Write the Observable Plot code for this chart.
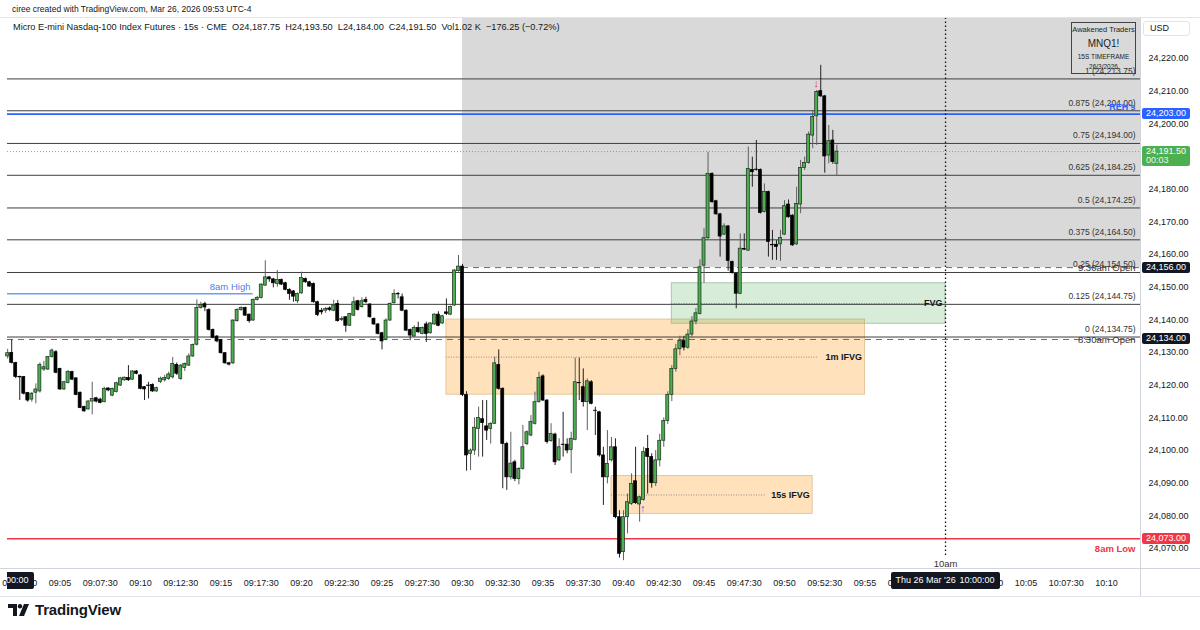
<!DOCTYPE html>
<html><head><meta charset="utf-8">
<script src="https://cdn.jsdelivr.net/npm/d3@7"></script>
<script src="https://cdn.jsdelivr.net/npm/@observablehq/plot@0.6"></script>
<style>
body{margin:0;background:#fff;font-family:"Liberation Sans",Arial,sans-serif;}
#wrap{position:relative;width:1200px;height:630px;overflow:hidden;background:#fff}
#chart{position:absolute;left:0;top:0;width:1200px}
.ov{position:absolute;white-space:nowrap;color:#131722;line-height:1}
.tag{position:absolute;left:1142px;width:48px;box-sizing:border-box;padding-left:4px;font-size:9px;color:#fff;border-radius:2px;white-space:nowrap}
.tbox{position:absolute;top:0;width:109px;height:17px;background:#131722;color:#fff;font-size:9px;line-height:17px;border-radius:2px;display:flex;justify-content:space-between;padding:0 5px;box-sizing:border-box;white-space:nowrap}
</style></head><body>
<div id="wrap">
<div id="chart"></div>
<div class="ov" style="left:12px;top:5px;font-size:8.5px">ciree created with TradingView.com, Mar 26, 2026 09:53 UTC-4</div>
<div class="ov" style="left:13px;top:23px;font-size:9.2px">Micro E-mini Nasdaq-100 Index Futures · 15s · CME&nbsp;&nbsp;O24,187.75&nbsp;&nbsp;H24,193.50&nbsp;&nbsp;L24,184.00&nbsp;&nbsp;C24,191.50&nbsp;&nbsp;Vol1.02 K&nbsp;&nbsp;−176.25 (−0.72%)</div>
<div class="ov" style="left:1071px;top:22px;width:63px;height:50px;border:1px solid #444;text-align:center;color:#222">
  <div style="font-size:7.5px;margin-top:3px">Awakened Traders</div>
  <div style="font-size:10px;margin-top:5px">MNQ1!</div>
  <div style="font-size:6.5px;margin-top:5px">15S TIMEFRAME</div>
  <div style="font-size:6.5px;margin-top:4px">26/3/2026</div>
</div>
<div class="ov" style="left:1143px;top:21px;width:47px;height:15px;border:1px solid #e0e3eb;border-radius:3px;background:#fff;box-sizing:border-box;font-size:9px;line-height:13px;padding-left:6px">USD</div>
<div class="ov" style="left:8px;top:602px;display:flex;align-items:center;gap:5px">
  <svg width="22" height="14" viewBox="0 0 22 14"><path d="M0 1h9v12H5V5H0z" fill="#131722"/><circle cx="12" cy="3.2" r="2.2" fill="#131722"/><path d="M16 1h5l-5 12h-5z" fill="#131722"/></svg>
  <span style="font-size:15px;font-weight:bold;color:#131722;letter-spacing:-0.2px">TradingView</span>
</div>
<div id="tclip" style="position:absolute;left:6.5px;top:572px;width:1134px;height:17px;overflow:hidden"></div>
</div>
<script>
const FONT = '"Liberation Sans", Arial, sans-serif';
// 15-second bars, index counted from 09:00:00 (first visible bar = index 7)
const firstBarIndex = 7;
const opens = [
24128.8,24129.9,24126.8,24122.5,24122.5,24117.6,24115.6,24117.7,24118.1,24124.8,
24124.8,24128.6,24130.1,24125.0,24118.7,24120.7,24124.0,24122.1,24117.7,24113.3,
24112.6,24115.0,24116.0,24115.6,24114.8,24119.0,24116.8,24117.9,24119.9,24121.5,
24122.2,24121.7,24124.2,24123.0,24119.4,24119.9,24120.1,24118.1,24121.0,24121.5,
24121.9,24122.4,24126.2,24121.9,24125.3,24126.0,24128.8,24132.4,24143.6,24144.8,
24143.0,24136.9,24134.9,24133.8,24129.8,24126.7,24126.7,24139.6,24143.0,24143.6,
24141.6,24139.8,24146.1,24146.7,24150.5,24153.0,24152.4,24151.0,24152.2,24151.2,
24149.2,24148.7,24145.7,24148.1,24152.5,24151.5,24151.0,24145.4,24142.8,24142.8,
24143.5,24142.8,24144.9,24140.0,24140.8,24138.2,24141.3,24145.7,24143.9,24146.1,
24144.7,24140.3,24138.6,24135.9,24133.9,24139.8,24145.1,24147.9,24146.9,24142.8,
24136.9,24134.9,24137.5,24135.7,24138.6,24135.9,24138.6,24141.6,24138.9,24142.3,
24141.6,24144.4,24154.9,24156.3,24117.0,24099.0,24100.0,24106.6,24109.6,24107.4,
24106.6,24108.2,24126.2,24118.9,24102.0,24091.8,24096.4,24091.3,24094.4,24102.0,
24104.6,24108.2,24114.8,24122.7,24115.3,24102.9,24104.9,24097.0,24101.8,24101.8,
24100.2,24103.3,24120.7,24119.4,24114.8,24120.9,24112.2,24111.7,24098.5,24091.8,
24097.0,24101.0,24079.6,24068.9,24079.6,24083.7,24090.6,24083.5,24084.9,24100.5,
24098.0,24090.0,24097.0,24103.0,24109.0,24117.0,24125.0,24131.0,24133.5,24131.5,
24135.5,24139.5,24141.8,24156.6,24165.0,24184.7,24176.3,24172.3,24166.1,24168.6,
24157.7,24154.1,24148.0,24161.7,24161.2,24185.9,24186.0,24185.9,24173.0,24179.1,
24162.9,24163.0,24163.1,24166.1,24175.3,24171.9,24163.1,24175.3,24186.5,24188.0,
24196.4,24202.3,24210.0,24208.4,24190.3,24194.9,24187.75];
const highs = [
24131.0,24133.9,24127.0,24122.8,24122.6,24117.8,24117.8,24120.4,24126.8,24127.3,
24128.8,24131.1,24130.6,24125.2,24121.2,24124.5,24124.3,24122.3,24117.9,24113.6,
24115.3,24120.9,24116.3,24116.0,24119.4,24119.2,24119.1,24120.9,24122.4,24122.5,
24126.0,24124.5,24124.5,24123.3,24119.6,24120.9,24120.4,24119.4,24122.5,24123.0,
24124.0,24128.5,24126.8,24126.3,24126.8,24129.6,24132.6,24146.1,24145.4,24145.4,
24143.4,24137.2,24135.2,24134.0,24130.0,24127.0,24140.0,24143.4,24144.0,24143.9,
24141.8,24146.4,24147.2,24151.0,24158.1,24153.3,24152.7,24155.1,24152.5,24151.5,
24149.5,24149.0,24148.2,24154.6,24152.8,24151.8,24151.3,24145.7,24143.5,24143.8,
24144.0,24146.0,24145.9,24141.0,24141.0,24142.0,24146.9,24146.0,24146.7,24146.9,
24145.0,24140.6,24138.9,24136.2,24140.3,24145.2,24149.2,24148.4,24147.9,24143.1,
24137.2,24138.2,24139.3,24137.8,24139.3,24139.2,24141.9,24142.5,24141.4,24146.4,
24144.2,24155.4,24159.7,24157.0,24118.0,24100.5,24110.0,24113.3,24115.3,24115.3,
24108.5,24128.6,24130.8,24119.2,24102.5,24105.6,24097.0,24094.8,24107.7,24106.0,
24110.7,24117.9,24124.0,24123.2,24115.6,24108.2,24105.3,24103.6,24111.7,24103.6,
24105.6,24128.3,24128.3,24125.0,24121.9,24121.4,24113.3,24112.0,24101.0,24106.1,
24104.0,24103.6,24081.6,24081.6,24086.7,24092.9,24101.0,24086.0,24101.0,24104.6,
24099.0,24100.0,24105.0,24110.0,24118.0,24126.0,24132.5,24135.0,24135.0,24137.0,
24141.0,24143.5,24158.4,24167.9,24191.3,24185.0,24176.6,24172.6,24169.4,24168.9,
24158.0,24154.4,24166.3,24166.3,24192.9,24189.8,24194.9,24186.2,24181.6,24179.4,
24167.4,24164.3,24167.4,24176.5,24176.7,24172.2,24180.6,24188.8,24189.8,24197.5,
24204.1,24210.2,24217.9,24208.7,24199.5,24198.0,24193.5];
const lows = [
24128.0,24126.5,24122.0,24115.3,24117.0,24114.8,24114.8,24114.3,24117.6,24124.2,
24124.5,24128.3,24123.5,24118.4,24118.4,24120.4,24121.4,24116.8,24112.8,24111.7,
24112.3,24110.9,24114.6,24114.3,24114.6,24118.0,24116.5,24117.6,24119.6,24121.2,
24121.2,24121.4,24123.2,24118.6,24115.3,24115.8,24117.8,24117.8,24120.5,24121.0,
24121.5,24121.9,24123.0,24121.5,24124.2,24125.8,24128.5,24132.0,24143.3,24142.5,
24136.6,24134.2,24133.0,24129.5,24126.4,24125.9,24126.3,24139.3,24142.6,24141.0,
24139.0,24139.5,24145.8,24146.4,24150.2,24151.5,24149.8,24150.0,24150.5,24148.9,
24146.0,24145.4,24145.0,24147.8,24151.2,24149.9,24145.1,24141.0,24141.5,24142.0,
24142.5,24142.5,24139.3,24139.5,24136.2,24138.0,24141.0,24142.7,24143.6,24144.9,
24140.5,24138.3,24135.4,24130.8,24133.6,24139.5,24144.8,24146.4,24142.5,24136.4,
24133.6,24134.6,24135.9,24135.4,24133.1,24135.6,24138.3,24137.9,24138.6,24141.3,
24141.3,24144.1,24154.6,24116.5,24093.7,24093.9,24098.5,24098.0,24098.0,24103.1,
24102.0,24108.0,24118.5,24088.3,24087.8,24091.0,24090.5,24089.5,24094.0,24101.5,
24104.2,24107.8,24114.5,24115.0,24102.0,24102.5,24095.4,24096.6,24098.0,24099.0,
24092.9,24103.0,24115.3,24113.3,24106.1,24114.0,24104.6,24098.0,24083.2,24089.8,
24096.5,24079.1,24067.1,24066.3,24074.5,24083.2,24083.5,24078.1,24084.5,24086.7,
24088.5,24089.0,24095.0,24101.0,24108.0,24115.0,24124.0,24129.0,24130.5,24131.0,
24134.5,24138.5,24141.5,24151.2,24164.5,24175.7,24172.0,24159.2,24165.8,24154.9,
24154.0,24143.4,24147.7,24161.2,24160.9,24180.6,24185.5,24172.4,24172.7,24159.2,
24158.2,24158.2,24157.9,24165.8,24171.1,24162.5,24162.8,24172.5,24185.7,24187.7,
24192.4,24193.4,24208.1,24184.9,24187.8,24187.6,24184.0];
const closes = [
24129.8,24126.8,24122.5,24122.4,24117.4,24115.3,24117.4,24118.7,24126.2,24125.5,
24128.6,24130.6,24123.8,24118.7,24120.9,24124.0,24121.7,24117.0,24113.0,24112.0,
24115.0,24115.8,24115.0,24114.6,24118.9,24118.4,24118.9,24120.6,24122.1,24122.3,
24121.5,24124.2,24123.5,24118.9,24118.7,24119.8,24118.1,24119.1,24122.0,24122.2,
24123.3,24126.5,24123.5,24126.0,24126.5,24128.8,24132.3,24143.6,24144.6,24143.8,
24136.9,24134.5,24133.4,24129.8,24126.7,24126.3,24139.8,24143.0,24143.6,24141.3,
24139.6,24146.1,24146.7,24150.8,24153.0,24152.4,24151.2,24152.2,24150.8,24149.2,
24147.9,24147.1,24147.9,24152.8,24151.5,24150.2,24145.4,24141.5,24142.3,24143.3,
24143.0,24144.4,24139.6,24140.3,24138.2,24141.8,24145.4,24143.0,24145.7,24145.4,
24140.8,24138.6,24135.7,24133.4,24139.8,24144.9,24147.9,24147.8,24142.8,24136.7,
24135.2,24137.5,24136.2,24137.5,24135.7,24138.9,24141.6,24138.2,24141.1,24141.8,
24143.9,24155.1,24156.3,24117.0,24098.5,24100.0,24107.0,24110.0,24108.4,24106.1,
24108.2,24126.7,24118.9,24102.0,24091.8,24096.0,24091.3,24094.4,24101.0,24105.6,
24108.7,24114.8,24122.2,24115.3,24102.6,24105.1,24096.4,24101.0,24101.7,24100.0,
24103.6,24120.9,24120.6,24114.8,24121.2,24114.3,24112.1,24098.5,24091.8,24095.9,
24101.0,24079.6,24068.4,24079.6,24084.2,24089.8,24083.9,24085.7,24099.5,24098.0,
24090.0,24097.0,24103.0,24109.0,24117.0,24125.0,24131.0,24133.5,24131.5,24135.5,
24139.5,24142.0,24156.1,24165.0,24184.7,24176.0,24172.3,24165.5,24168.6,24158.0,
24154.3,24148.0,24161.8,24161.5,24186.2,24185.2,24185.9,24172.7,24179.1,24163.8,
24162.8,24162.3,24165.1,24174.8,24171.4,24162.8,24175.5,24186.5,24188.0,24196.7,
24202.1,24209.7,24208.4,24190.0,24194.7,24188.3,24191.5];

// Fibonacci retracement levels
const fibRatios = ["1","0.875","0.75","0.625","0.5","0.375","0.25","0.125","0"];
const fibPrices = [24213.75,24204.00,24194.00,24184.25,24174.25,24164.50,24154.50,24144.75,24134.75];
// key levels
const levelNames = ["REH's","9:30am Open","8:30am Open","8am High","8am Low","Last"];
const levelPrices = [24203, 24156, 24134, 24148, 24073, 24191.5];
// gap boxes (times in minutes after 09:00)
const boxNames = ["1m IFVG","15s IFVG","FVG"];
const boxStart = [29, 39.25, 43];
const boxEnd = [55, 51.75, 60];
const boxLow = [24117.1, 24080.6, 24138.8];
const boxHigh = [24140.1, 24092.2, 24151.2];
const boxMidEnd = [52.1, 48.8, 58.8];
// time axis labels
const timeLabels = ["09:02:30","09:05","09:07:30","09:10","09:12:30","09:15","09:17:30","09:20","09:22:30","09:25","09:27:30","09:30","09:32:30","09:35","09:37:30","09:40","09:42:30","09:45","09:47:30","09:50","09:52:30","09:55","09:57:30","10:00","10:02:30","10:05","10:07:30","10:10"];
const priceTicks = [24070,24080,24090,24100,24110,24120,24130,24140,24150,24160,24170,24180,24190,24200,24210,24220];
// crosshair time markers
const crossTimes = ["09:00:00","10:00:00"];

const toMin = s => { const p = s.split(":").map(Number); return (p[0]-9)*60 + p[1] + (p[2]||0)/60; };
const timeTicks = timeLabels.map(toMin);
const labelOf = v => timeLabels[timeTicks.findIndex(t => Math.abs(t - v) < 1e-6)] ?? "";
const fmtP = d3.format(",.2f");

const bars = opens.map((o,k) => ({t:(firstBarIndex+k)*0.25, o, h:highs[k], l:lows[k], c:closes[k], up:closes[k] >= o}));
const fibs = fibRatios.map((r,k) => ({r, p:fibPrices[k]}));
const boxes = boxNames.map((n,k) => ({n, t1:boxStart[k], t2:boxEnd[k], lo:boxLow[k], hi:boxHigh[k], mid:(boxLow[k]+boxHigh[k])/2, tm:boxMidEnd[k]}));
const boxFill = {"1m IFVG":"rgba(255,160,30,0.30)","15s IFVG":"rgba(255,160,30,0.30)","FVG":"rgba(76,175,80,0.22)"};
const boxStroke = {"1m IFVG":"rgba(215,170,110,0.6)","15s IFVG":"rgba(215,170,110,0.6)","FVG":"rgba(150,190,150,0.8)"};
const L = Object.fromEntries(levelNames.map((n,k)=>[n, levelPrices[k]]));

const X0 = 1.739, X1 = 72.11, Y0 = 24063.9, Y1 = 24232.24;
const HW = 0.093;

const chart = Plot.plot({
  width: 1200, height: 597,
  marginLeft: 7, marginRight: 60, marginTop: 18, marginBottom: 29,
  style: {fontFamily: FONT, fontSize: "9px", color: "#131722", background: "transparent"},
  x: {type: "linear", domain: [X0, X1]},
  y: {domain: [Y0, Y1]},
  marks: [
    Plot.rect([0], {x1: 30, x2: X1, y1: L["9:30am Open"], y2: Y1, fill: "#d9d9d9"}),
    Plot.rect(boxes, {x1: "t1", x2: "t2", y1: "lo", y2: "hi", fill: d => boxFill[d.n], stroke: d => boxStroke[d.n], strokeWidth: 1}),
    Plot.ruleY(boxes, {y: "mid", x1: "t1", x2: "tm", stroke: "#8d8d8d", strokeDasharray: "1,1.5", strokeWidth: 1}),
    Plot.ruleY(fibPrices, {stroke: "#3f3f3f", strokeWidth: 1}),
    Plot.ruleY([L["REH's"]], {stroke: "#2962ff", strokeWidth: 1.7}),
    Plot.ruleY([L["Last"]], {stroke: "#4caf50", strokeOpacity: 0.85, strokeDasharray: "1,2"}),
    Plot.ruleY([L["8am High"]], {x1: X0, x2: 17, stroke: "#6d9eeb", strokeWidth: 1.3}),
    Plot.ruleY([L["8:30am Open"]], {stroke: "#6a6a6a", strokeDasharray: "6,5"}),
    Plot.ruleY([L["9:30am Open"]], {x1: 30, x2: X1, stroke: "#6a6a6a", strokeDasharray: "6,5"}),
    Plot.ruleY([L["8am Low"]], {stroke: "#f23645", strokeWidth: 1.7}),
    Plot.ruleX([60], {y1: 24067.9, y2: Y1, stroke: "#111", strokeDasharray: "1.5,2.5", strokeWidth: 1.3}),
    // candles
    Plot.ruleX(bars, {x: "t", y1: "l", y2: "h", stroke: d => d.up ? "#5f5f5f" : "#222", strokeWidth: 1}),
    Plot.rect(bars, {x1: d => d.t - HW, x2: d => d.t + HW, y1: "o", y2: "c", fill: d => d.up ? "#4caf50" : "#000", stroke: d => d.up ? "#1d2a1e" : "#000", strokeWidth: 0.7}),
    // labels
    Plot.text(fibs, {x: X1, y: "p", text: d => `${d.r} (${fmtP(d.p)})`, textAnchor: "end", dx: -5, dy: -8, fill: "#333", fontSize: 8.5}),
    Plot.text(["REH's"], {x: X1, y: L["REH's"], text: d => d, textAnchor: "end", dx: -5, dy: -7, fill: "#2962ff", fontWeight: "bold", fontSize: 9}),
    Plot.text(["9:30am Open","8:30am Open"], {x: X1, y: d => L[d], text: d => d, textAnchor: "end", dx: -5, dy: 0.5, fill: "#333", fontSize: 9.5}),
    Plot.text(["8am High"], {x: 16.83, y: L["8am High"], text: d => d, textAnchor: "end", dy: -7, fill: "#4d7fe6", fontSize: 9.5}),
    Plot.text(["8am Low"], {x: X1, y: L["8am Low"], text: d => d, textAnchor: "end", dx: -5, dy: 10, fill: "#f23645", fontWeight: "bold", fontSize: 9.5}),
    Plot.text(boxes, {x: "t2", y: "mid", text: "n", textAnchor: "end", dx: -3, fill: "#131722", fontWeight: "bold", fontSize: 9}),
    Plot.text(["10am"], {x: 60, y: 24065.4, text: d => d, fill: "#333", fontSize: 9.5}),
    Plot.text(["↓"], {x: 51.97, y: 24212.4, text: d => d, fill: "#f23645", fontWeight: "bold", fontSize: 11}),
    Plot.text(["↑"], {x: 41.2, y: 24082.2, text: d => d, fill: "#2962ff", fontWeight: "bold", fontSize: 11}),
    // axes
    Plot.axisX({ticks: timeTicks, tickFormat: labelOf, tickSize: 0, tickPadding: 11, fontSize: 9, fill: "#131722"}),
    Plot.axisY({anchor: "right", ticks: priceTicks, tickFormat: fmtP, tickSize: 0, tickPadding: 8, fontSize: 9, fill: "#131722"})
  ]
});
document.getElementById("chart").appendChild(chart);

const sx = chart.scale("x"), sy = chart.scale("y");
const svg = d3.select(chart);
// pane borders
const g = svg.append("g");
g.append("line").attr("x1", 1140.5).attr("x2", 1140.5).attr("y1", 18).attr("y2", 597).attr("stroke", "#d1d4dc");
g.append("line").attr("x1", 0).attr("x2", 1200).attr("y1", 568.5).attr("y2", 568.5).attr("stroke", "#d1d4dc");
g.append("line").attr("x1", 0).attr("x2", 1200).attr("y1", 17.5).attr("y2", 17.5).attr("stroke", "#e0e3eb");
g.append("line").attr("x1", 0).attr("x2", 1200).attr("y1", 596.5).attr("y2", 596.5).attr("stroke", "#e0e3eb");

// crosshair time boxes on the time axis (HTML, positioned with the x scale)
const tclip = d3.select("#tclip");
for (const s of crossTimes) {
  const cx = sx.apply(toMin(s)) - 6.5;
  const b = tclip.append("div").attr("class", "tbox").style("left", (cx - 54.5) + "px");
  b.append("span").text("Thu 26 Mar '26");
  b.append("span").text(s);
}

// price tags on the price axis
const wrap = d3.select("#wrap");
const tags = [
  {p: L["REH's"], bg: "#2962ff"},
  {p: L["9:30am Open"], bg: "#131722"},
  {p: L["8:30am Open"], bg: "#131722"},
  {p: L["8am Low"], bg: "#f23645"}
];
for (const t of tags) {
  const cy = sy.apply(t.p);
  wrap.append("div").attr("class", "tag")
    .style("top", (cy - 5.5) + "px").style("height", "11px").style("line-height", "11px")
    .style("background", t.bg).text(fmtP(t.p));
}
{
  const cy = sy.apply(L["Last"]);
  const d = wrap.append("div").attr("class", "tag")
    .style("top", (cy - 5.5) + "px").style("height", "20px").style("line-height", "9px")
    .style("padding-top", "1px").style("background", "#4caf50");
  d.append("div").text(fmtP(L["Last"]));
  d.append("div").style("color", "#e8f5e9").text("00:03");
}
</script>
</body></html>
